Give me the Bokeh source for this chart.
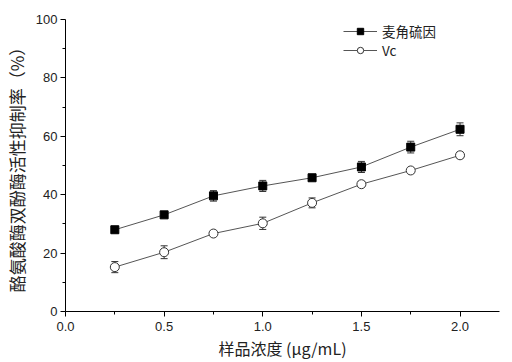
from bokeh.plotting import figure
from bokeh.models import ColumnDataSource, Whisker, Range1d, Legend, LegendItem, FixedTicker, TeeHead
from bokeh.embed import file_html
from bokeh.resources import INLINE

conc = [0.25, 0.5, 0.75, 1.0, 1.25, 1.5, 1.75, 2.0]
ergo = [28.0, 33.1, 39.6, 43.0, 45.8, 49.5, 56.3, 62.4]
ergo_err = [1.0, 1.0, 1.8, 1.9, 0.8, 1.9, 2.0, 2.2]
vc = [15.2, 20.3, 26.7, 30.2, 37.2, 43.6, 48.3, 53.5]
vc_err = [1.9, 2.2, 1.0, 2.1, 1.7, 1.0, 1.0, 1.0]
x_ticks = [0.0, 0.5, 1.0, 1.5, 2.0]
y_ticks = [0, 20, 40, 60, 80, 100]
series_names = ["麦角硫因", "Vc"]

p = figure(width=512, height=362, output_backend="svg", toolbar_location=None,
           x_range=Range1d(0, 2.2), y_range=Range1d(0, 100),
           min_border_left=65, min_border_right=13, min_border_top=19, min_border_bottom=51)
p.outline_line_color = None
p.grid.visible = False
p.background_fill_color = "white"

src1 = ColumnDataSource(dict(x=conc, y=ergo, lo=[a - b for a, b in zip(ergo, ergo_err)], hi=[a + b for a, b in zip(ergo, ergo_err)]))
src2 = ColumnDataSource(dict(x=conc, y=vc, lo=[a - b for a, b in zip(vc, vc_err)], hi=[a + b for a, b in zip(vc, vc_err)]))

for s in (src1, src2):
    w = Whisker(source=s, base="x", upper="hi", lower="lo", line_color="#333333", line_width=1,
                upper_head=TeeHead(size=7, line_color="#333333", line_width=1),
                lower_head=TeeHead(size=7, line_color="#333333", line_width=1))
    p.add_layout(w)

l1 = p.line("x", "y", source=src1, line_color="#555555", line_width=1)
m1 = p.scatter("x", "y", source=src1, marker="square", size=8, fill_color="black", line_color="black")
l2 = p.line("x", "y", source=src2, line_color="#555555", line_width=1)
m2 = p.scatter("x", "y", source=src2, marker="circle", size=9, fill_color="white", line_color="#333333", line_width=1)

common = dict(border_line_color=None, background_fill_alpha=0, padding=0, margin=0, spacing=0,
              glyph_width=34, glyph_height=16, label_standoff=5, label_text_font="Noto Sans CJK SC",
              label_text_font_size="13.5px", label_text_color="#222222")
leg1 = Legend(items=[LegendItem(label=series_names[0], renderers=[l1, m1])], location=(278, 270), **common)
leg2 = Legend(items=[LegendItem(label=series_names[1], renderers=[l2, m2])], location=(278, 251), **common)
p.add_layout(leg1)
p.add_layout(leg2)

p.xaxis.ticker = FixedTicker(ticks=x_ticks, minor_ticks=[0.25, 0.75, 1.25, 1.75])
p.yaxis.ticker = FixedTicker(ticks=y_ticks, minor_ticks=[10, 30, 50, 70, 90])
for ax in (p.xaxis[0], p.yaxis[0]):
    ax.axis_line_color = "black"
    ax.major_tick_line_color = "black"
    ax.minor_tick_line_color = "black"
    ax.major_tick_in = 0
    ax.major_tick_out = 5
    ax.minor_tick_in = 0
    ax.minor_tick_out = 3
    ax.major_label_text_font = "Liberation Sans"
    ax.major_label_text_font_size = "13px"
    ax.major_label_text_color = "#222222"
    ax.axis_label_text_font = "Noto Sans CJK SC"
    ax.axis_label_text_font_size = "16px"
    ax.axis_label_text_font_style = "normal"
    ax.axis_label_text_color = "#222222"
p.xaxis.axis_label = "样品浓度 (μg/mL)"
p.yaxis.axis_label = "酪氨酸酶双酚酶活性抑制率（%）"
p.yaxis.axis_label_text_font_size = "17px"
p.xaxis.major_label_overrides = {0: "0.0", 1: "1.0", 2: "2.0"}
p.xaxis.axis_label_standoff = 2
p.yaxis.axis_label_standoff = 4
p.yaxis.major_label_standoff = 3

open("out.html", "w").write(file_html(p, INLINE))
